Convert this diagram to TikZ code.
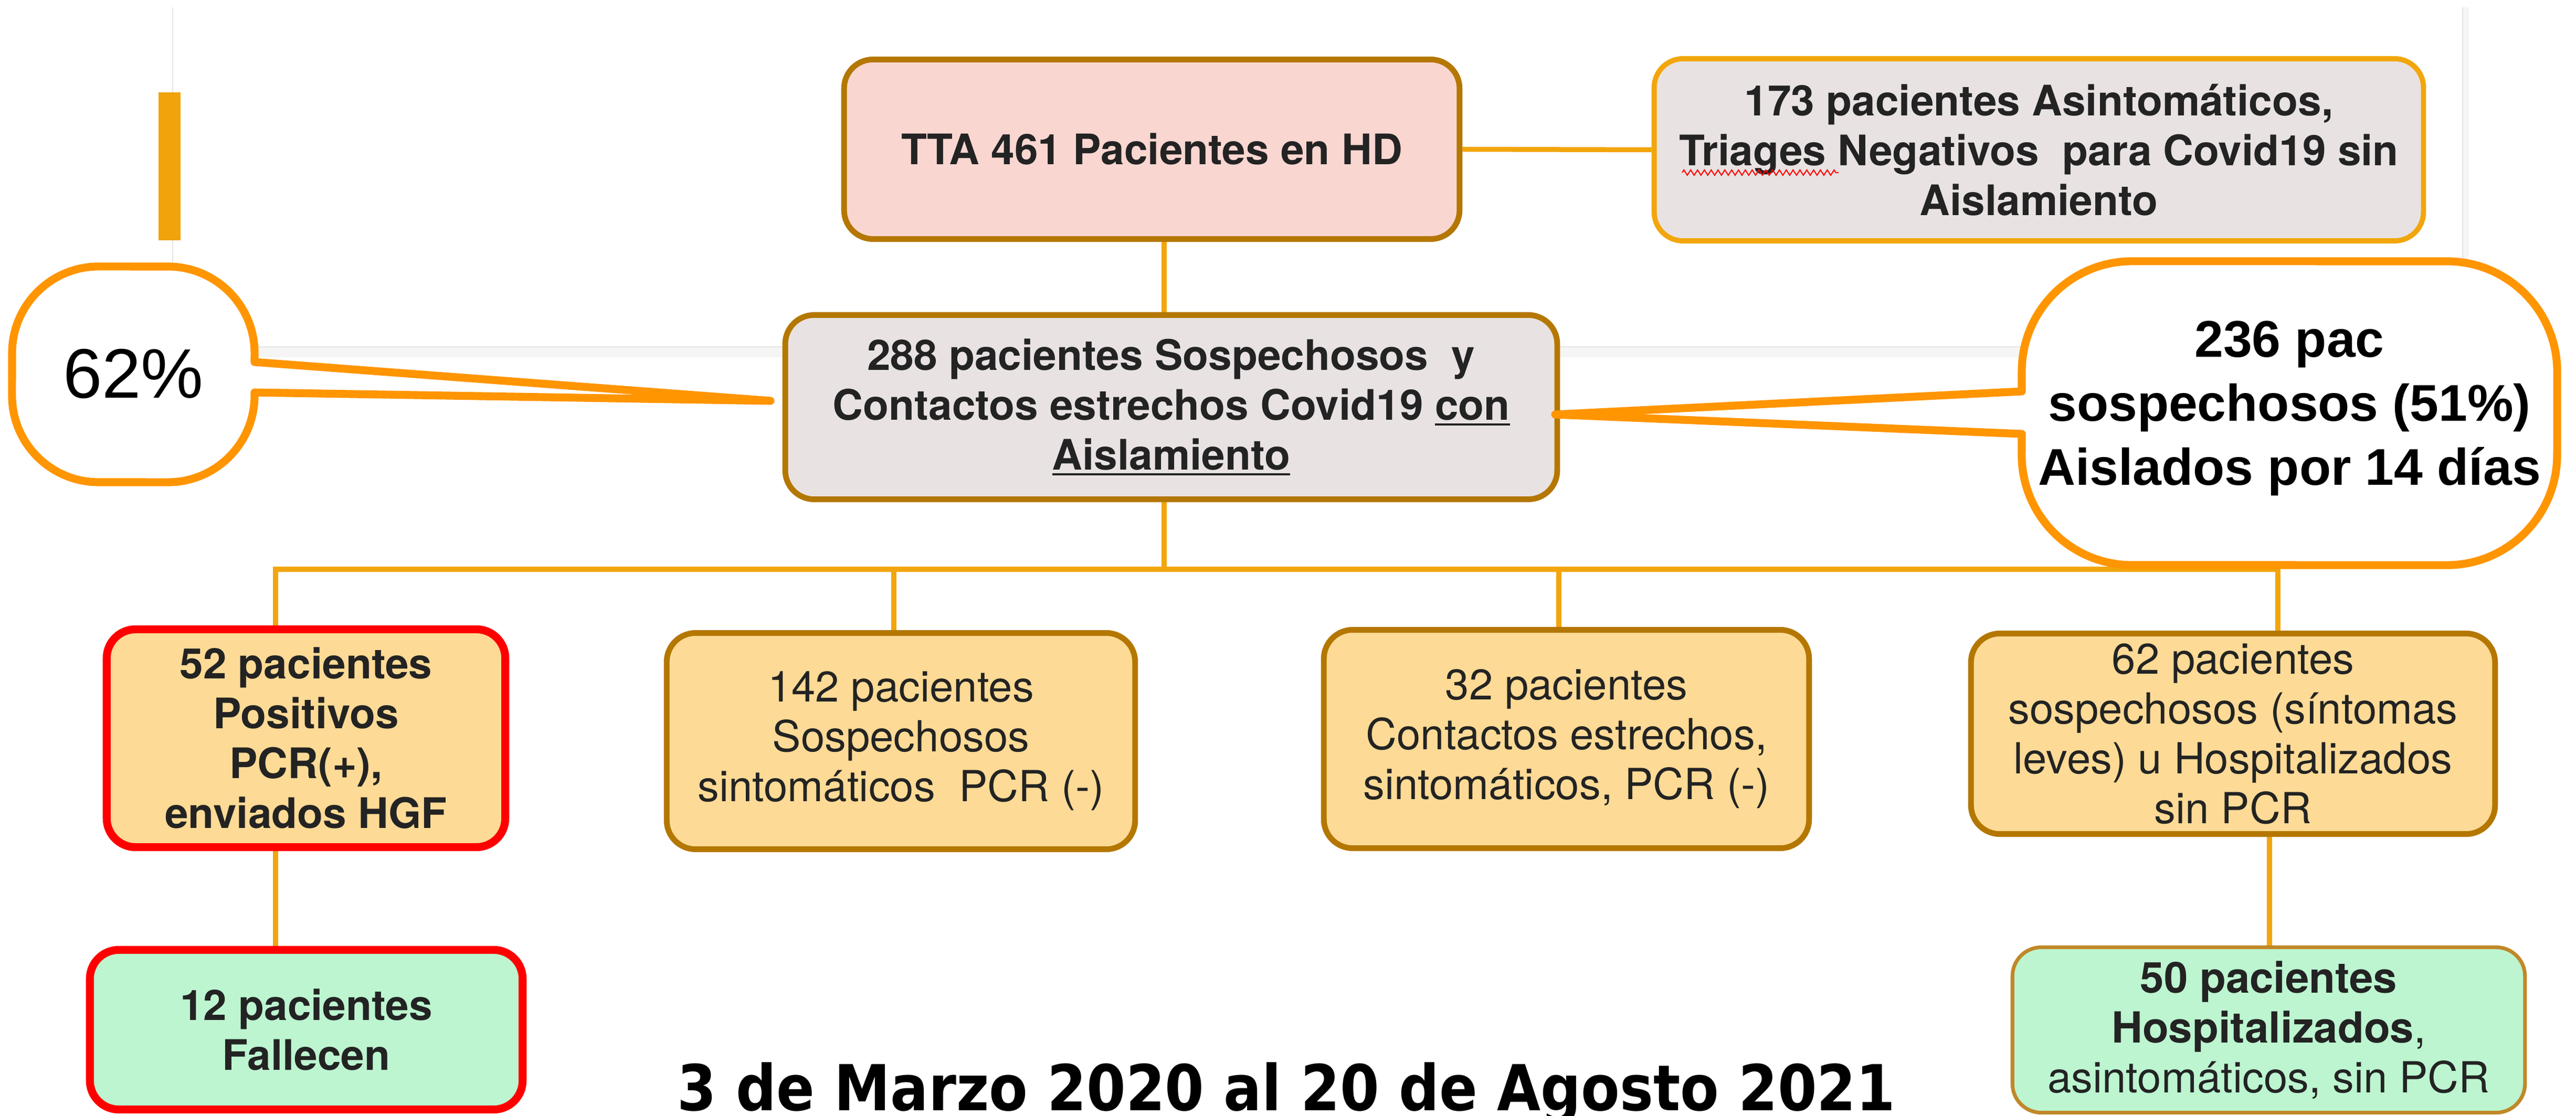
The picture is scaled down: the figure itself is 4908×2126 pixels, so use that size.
\documentclass[tikz,border=0pt]{standalone}
\usepackage{fontspec}
\setmainfont{TeX Gyre Heros}
\newfontfamily\bubfont{Liberation Sans}
\newfontfamily\titlefont[FakeStretch=0.89]{DejaVu Sans}
\usetikzlibrary{decorations.pathmorphing}
\definecolor{brownb}{RGB}{180,119,0}
\definecolor{goldb}{RGB}{242,166,12}
\definecolor{linec}{RGB}{242,165,12}
\definecolor{pinkf}{RGB}{250,214,209}
\definecolor{grayf}{RGB}{232,226,226}
\definecolor{yelf}{RGB}{253,218,149}
\definecolor{mintf}{RGB}{188,245,208}
\definecolor{redb}{RGB}{255,0,0}
\definecolor{mintb}{RGB}{192,136,40}
\definecolor{bubc}{RGB}{255,149,0}
\definecolor{barc}{RGB}{240,163,10}
\definecolor{txt}{RGB}{35,35,35}
\definecolor{framec}{RGB}{228,228,228}
\definecolor{shadowc}{RGB}{245,245,245}
\pgfdeclarelayer{bg}
\pgfsetlayers{bg,main}
\newcommand\ulx[1]{\setbox0\hbox{#1}\rlap{\rule[-0.13em]{\wd0}{0.055em}}\box0}
\tikzset{
  box/.style={draw=brownb, line width=3.1pt, rounded corners=0.55cm, inner sep=0pt, align=center, text=txt},
  bfbox/.style={box, font=\fontsize{22.8}{27}\selectfont\bfseries},
  rgbox/.style={box, font=\fontsize{23.2}{27}\selectfont},
  conn/.style={draw=linec, line width=2.7pt},
  bubble/.style={draw=bubc, fill=white, line width=4.3pt, line join=round},
}
\begin{document}
\begin{tikzpicture}[x=0.01cm,y=0.01cm]
\useasboundingbox (0,0) rectangle (4908,2126);
% slide frame
\begin{pgfonlayer}{bg}
\fill[shadowc] (329,1445) rectangle (4702,1465);
\fill[shadowc] (4692,1465) rectangle (4704,2112);
\draw[framec, line width=0.8pt] (329,2112) -- (329,1465) -- (4692,1465) -- (4692,2112);
\end{pgfonlayer}
\fill[barc] (302,1668) rectangle (344,1950);

% boxes
\node[bfbox, fill=pinkf, minimum width=11.72cm, minimum height=3.42cm] (tta) at (2194.5,1841.5) {TTA 461 Pacientes en HD};
\node[bfbox, fill=grayf, draw=goldb, line width=2.8pt, minimum width=14.65cm, minimum height=3.47cm] (asin) at (3884.5,1840.5)
  {173 pacientes Asintomáticos,\\Triages Negativos~ para Covid19 sin\\Aislamiento};
\node[bfbox, fill=grayf, minimum width=14.70cm, minimum height=3.51cm] (sosp) at (2231.5,1350)
  {288 pacientes Sospechosos~ y\\Contactos estrechos Covid19 \ulx{con}\\\ulx{Aislamiento}};
\node[bfbox, fill=yelf, draw=redb, line width=4.3pt, minimum width=7.59cm, minimum height=4.15cm] (pos) at (583,719)
  {52 pacientes\\Positivos\\PCR(+),\\enviados HGF};
\node[rgbox, fill=yelf, minimum width=8.92cm, minimum height=4.12cm] (sint) at (1716.5,713.5)
  {142 pacientes\\Sospechosos\\sintomáticos~ PCR (-)};
\node[rgbox, fill=yelf, minimum width=9.24cm, minimum height=4.16cm] (cont) at (2984.5,717.5)
  {32 pacientes\\Contactos estrechos,\\sintomáticos, PCR (-)};
\node[rgbox, fill=yelf, minimum width=9.98cm, minimum height=3.82cm] (hosp) at (4254.5,727.5)
  {62 pacientes\\sospechosos (síntomas\\leves) u Hospitalizados\\sin PCR};
\node[bfbox, fill=mintf, draw=redb, line width=4.3pt, minimum width=8.24cm, minimum height=3.04cm] (fall) at (583.5,163.5)
  {12 pacientes\\Fallecen};
\node[rgbox, fill=mintf, draw=mintb, line width=2pt, minimum width=9.76cm, minimum height=3.15cm] (asint) at (4322.5,163)
  {\textbf{50 pacientes}\\\textbf{Hospitalizados},\\asintomáticos, sin PCR};

% spell-check squiggle
\draw[redb, line width=0.6pt, decorate, decoration={zigzag, amplitude=0.05cm, segment length=0.13cm}] (3205,1797) -- (3503,1797);

% connectors
\coordinate (trunk) at (2218,0);
\coordinate (bus) at (0,1041);
\coordinate (d1) at (525,0);
\coordinate (d2) at (1703,0);
\coordinate (d3) at (2970,0);
\coordinate (d4) at (4340,0);
\coordinate (d5) at (4324,0);
\begin{pgfonlayer}{bg}
\draw[conn] (tta.east) -- (asin.west);
\draw[conn] (tta.south -| trunk) -- (sosp.north -| trunk);
\draw[conn] (sosp.south -| trunk) -- (trunk |- bus);
\draw[conn] (pos.north -| d1) -- (d1 |- bus) -- (d4 |- bus) -- (hosp.north -| d4);
\draw[conn] (sint.north -| d2) -- (d2 |- bus);
\draw[conn] (cont.north -| d3) -- (d3 |- bus);
\draw[conn] (pos.south -| d1) -- (fall.north -| d1);
\draw[conn] (hosp.south -| d5) -- (asint.north -| d5);
\end{pgfonlayer}

% callout bubbles
\draw[bubble] (485,1436) -- (1468,1362) -- (485,1378) -- (485,1372)
  arc[start angle=0,end angle=-90,radius=1.65cm] -- (188,1207)
  arc[start angle=270,end angle=180,radius=1.65cm] -- (23,1453)
  arc[start angle=180,end angle=90,radius=1.65cm] -- (320,1618)
  arc[start angle=90,end angle=0,radius=1.65cm] -- cycle;
\node[font=\bubfont\fontsize{38}{44}\selectfont, text=black, inner sep=0pt] (p62) at (254,1413) {62\%};

\draw[bubble] (3852,1299) -- (2963,1336) -- (3852,1380) -- (3852,1418)
  arc[start angle=180,end angle=90,radius=2.1cm] -- (4662,1628)
  arc[start angle=90,end angle=0,radius=2.1cm] -- (4872,1259)
  arc[start angle=0,end angle=-90,radius=2.1cm] -- (4062,1049)
  arc[start angle=270,end angle=180,radius=2.1cm] -- cycle;
\node[font=\bubfont\bfseries\fontsize{28}{34.7}\selectfont, text=black, align=center, inner sep=0pt] (p236) at (4362,1348)
  {236 pac\\sospechosos (51\%)\\Aislados por 14 días};

% title
\node[font=\titlefont\bfseries\fontsize{34.3}{40}\selectfont, text=black, anchor=base, inner sep=0pt] (title) at (2451,10)
  {3 de Marzo 2020 al 20 de Agosto 2021};
\end{tikzpicture}
\end{document}
